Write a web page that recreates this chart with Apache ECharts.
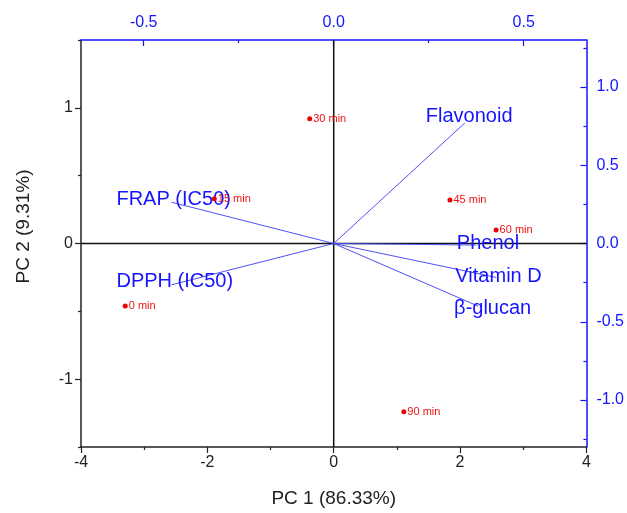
<!DOCTYPE html>
<html>
<head>
<meta charset="utf-8">
<script src="https://cdn.jsdelivr.net/npm/echarts@6/dist/echarts.min.js"></script>
<style>html,body{margin:0;padding:0;background:#fff}#c{width:627px;height:513px}</style>
</head>
<body>
<div id="c"></div>
<script>
// ---- data ----
const scoreLabels = ['0 min', '15 min', '30 min', '45 min', '60 min', '90 min'];
const pc1Scores = [-3.30, -1.89, -0.38, 1.84, 2.57, 1.11];
const pc2Scores = [-0.46, 0.33, 0.92, 0.32, 0.10, -1.24];

const variables = ['Flavonoid', 'FRAP (IC50)', 'DPPH (IC50)', 'Phenol', 'Vitamin D', 'β-glucan'];
const pc1Loadings = [0.345, -0.427, -0.427, 0.374, 0.428, 0.380];
const pc2Loadings = [0.770, 0.264, -0.264, -0.010, -0.217, -0.400];

const bottomRange = [-4, 4];
const leftRange = [-1.5, 1.5];
const topRange = [-0.665, 0.665];
const rightRange = [-1.30, 1.30];
const leftMajorTicks = [-1, 0, 1];
const leftMinorTicks = [-1.5, -0.5, 0.5, 1.5];
const topMajorTicks = [-0.5, 0, 0.5];
const topMinorTicks = [-0.25, 0.25];
const rightMajorTicks = [-1, -0.5, 0, 0.5, 1];
const rightMinorTicks = [-1.25, -0.75, -0.25, 0.25, 0.75, 1.25];

// ---- styles ----
const FONT = "'Liberation Sans', Arial, sans-serif";
const BLUE = '#1414ff';
const AXBLACK = '#222';
const labelOffsets = [[-39, -6], [-55, -3], [-55, -3], [-19, -2], [-41, -1], [-24, 2]];

const series = [];
// zero lines
series.push({
  type: 'line', xAxisIndex: 0, yAxisIndex: 0, silent: true, symbol: 'none',
  data: [[bottomRange[0], 0], [bottomRange[1], 0]],
  lineStyle: {color: '#111', width: 1.5}, z: 1
});
series.push({
  type: 'line', xAxisIndex: 0, yAxisIndex: 0, silent: true, symbol: 'none',
  data: [[0, leftRange[0]], [0, leftRange[1]]],
  lineStyle: {color: '#111', width: 1.5}, z: 1
});
// loading vectors
variables.forEach((v, i) => {
  series.push({
    type: 'line', xAxisIndex: 1, yAxisIndex: 1, symbol: 'none', silent: true,
    data: [[0, 0], [pc1Loadings[i], pc2Loadings[i]]],
    lineStyle: {color: '#5050f5', width: 1}, z: 2
  });
});
// loading labels
series.push({
  type: 'scatter', xAxisIndex: 1, yAxisIndex: 1, symbolSize: 0, z: 4,
  itemStyle: {opacity: 1, color: BLUE},
  data: variables.map((v, i) => ({
    name: v, value: [pc1Loadings[i], pc2Loadings[i]],
    label: {offset: labelOffsets[i]}
  })),
  label: {
    show: true, position: 'inside', align: 'left', verticalAlign: 'middle',
    formatter: p => p.name, color: BLUE, fontSize: 20, fontFamily: FONT,
    textBorderWidth: 0, textBorderColor: 'transparent', textShadowBlur: 0
  }
});
// scores
series.push({
  type: 'scatter', xAxisIndex: 0, yAxisIndex: 0, symbol: 'circle', symbolSize: 5, z: 5,
  itemStyle: {color: '#ee0000', opacity: 1},
  data: scoreLabels.map((n, i) => ({name: n, value: [pc1Scores[i], pc2Scores[i]]})),
  label: {
    show: true, position: 'right', distance: 1, formatter: p => p.name,
    color: '#ee1111', fontSize: 11, fontFamily: FONT
  }
});

const fmt1 = v => Number(v).toFixed(1);

const option = {
  backgroundColor: '#fff',
  animation: false,
  grid: {left: 81, right: 38, top: 40, bottom: 61},
  xAxis: [
    {
      type: 'value', position: 'bottom', min: bottomRange[0], max: bottomRange[1], interval: 2,
      axisLine: {show: true, onZero: false, lineStyle: {color: AXBLACK, width: 1.5}},
      axisTick: {show: true, inside: false, length: 6, lineStyle: {color: AXBLACK, width: 1.2}},
      minorTick: {show: true, splitNumber: 2, length: 3, lineStyle: {color: AXBLACK, width: 1.2}},
      axisLabel: {color: '#222', fontSize: 16, fontFamily: FONT, margin: 8},
      splitLine: {show: false},
      name: 'PC 1 (86.33%)', nameLocation: 'middle', nameGap: 42,
      nameTextStyle: {color: '#222', fontSize: 19, fontFamily: FONT}
    },
    {
      type: 'value', position: 'top', min: topRange[0], max: topRange[1],
      axisLine: {show: true, onZero: false, lineStyle: {color: BLUE, width: 1.5}},
      axisTick: {show: true, inside: true, length: 6, customValues: topMajorTicks, lineStyle: {color: BLUE, width: 1.2}},
      axisLabel: {show: true, customValues: topMajorTicks, formatter: fmt1, color: BLUE, fontSize: 16, fontFamily: FONT, margin: 9},
      splitLine: {show: false}
    },
    {
      type: 'value', position: 'top', min: topRange[0], max: topRange[1],
      axisLine: {show: false, onZero: false},
      axisTick: {show: true, inside: true, length: 3, customValues: topMinorTicks, lineStyle: {color: BLUE, width: 1.2}},
      axisLabel: {show: false},
      splitLine: {show: false}
    }
  ],
  yAxis: [
    {
      type: 'value', position: 'left', min: leftRange[0], max: leftRange[1],
      axisLine: {show: true, onZero: false, lineStyle: {color: AXBLACK, width: 1.5}},
      axisTick: {show: true, inside: false, length: 6, customValues: leftMajorTicks, lineStyle: {color: AXBLACK, width: 1.2}},
      axisLabel: {customValues: leftMajorTicks, color: '#222', fontSize: 16, fontFamily: FONT, margin: 8},
      splitLine: {show: false},
      name: 'PC 2 (9.31%)', nameLocation: 'middle', nameGap: 48,
      nameTextStyle: {color: '#222', fontSize: 19, fontFamily: FONT, padding: [0, 0, 0, 34]}
    },
    {
      type: 'value', position: 'right', min: rightRange[0], max: rightRange[1],
      axisLine: {show: true, onZero: false, lineStyle: {color: BLUE, width: 1.5}},
      axisTick: {show: true, inside: true, length: 6, customValues: rightMajorTicks, lineStyle: {color: BLUE, width: 1.2}},
      axisLabel: {show: true, customValues: rightMajorTicks, formatter: fmt1, color: BLUE, fontSize: 16, fontFamily: FONT, margin: 10},
      splitLine: {show: false}
    },
    {
      type: 'value', position: 'right', min: rightRange[0], max: rightRange[1],
      axisLine: {show: false, onZero: false},
      axisTick: {show: true, inside: true, length: 3, customValues: rightMinorTicks, lineStyle: {color: BLUE, width: 1.2}},
      axisLabel: {show: false},
      splitLine: {show: false}
    },
    {
      type: 'value', position: 'left', min: leftRange[0], max: leftRange[1],
      axisLine: {show: false, onZero: false},
      axisTick: {show: true, inside: false, length: 3, customValues: leftMinorTicks, lineStyle: {color: AXBLACK, width: 1.2}},
      axisLabel: {show: false},
      splitLine: {show: false}
    }
  ],
  series: series
};

const chart = echarts.init(document.getElementById('c'), null, {renderer: 'canvas'});
chart.setOption(option);
</script>
</body>
</html>
